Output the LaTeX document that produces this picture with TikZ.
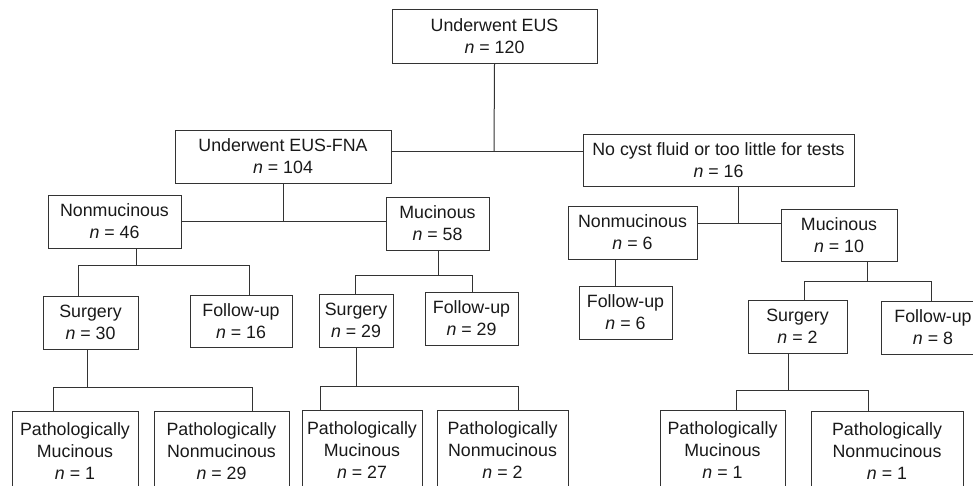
\documentclass[tikz,border=0pt]{standalone}
\usepackage{fontspec}
\setmainfont{Liberation Sans}
\begin{document}
\begin{tikzpicture}[x=1pt,y=-1pt,
  box/.style={draw=black!80, line width=1pt, align=center, inner sep=0pt,
    font=\fontsize{17.8}{22}\selectfont, text=black!90},
  ln/.style={draw=black!80, line width=1pt}]
\clip (0,0) rectangle (973,485);
% level 0
\node[box, minimum width=205pt, minimum height=54pt] (top) at (494.5,36) {Underwent EUS\\\textit{n} = 120};
% level 1
\node[box, minimum width=216pt, minimum height=53pt] (fna) at (283,156.5) {Underwent EUS-FNA\\\textit{n} = 104};
\node[box, minimum width=271pt, minimum height=52pt] (nc) at (718.5,160) {No cyst fluid or too little for tests\\\textit{n} = 16};
% level 2
\node[box, minimum width=133pt, minimum height=53pt] (nm1) at (114.5,221.5) {Nonmucinous\\\textit{n} = 46};
\node[box, minimum width=103pt, minimum height=53pt] (m1) at (437.5,223.5) {Mucinous\\\textit{n} = 58};
\node[box, minimum width=129pt, minimum height=53pt] (nm2) at (632.5,232.5) {Nonmucinous\\\textit{n} = 6};
\node[box, minimum width=116pt, minimum height=52pt] (m2) at (839,235) {Mucinous\\\textit{n} = 10};
% level 3
\node[box, minimum width=95pt, minimum height=53pt] (s1) at (90.5,322.5) {Surgery\\\textit{n} = 30};
\node[box, minimum width=102pt, minimum height=52pt] (f1) at (241,321) {Follow-up\\\textit{n} = 16};
\node[box, minimum width=74pt, minimum height=53pt] (s2) at (356,320.5) {Surgery\\\textit{n} = 29};
\node[box, minimum width=93pt, minimum height=53pt] (f2) at (471.5,318.5) {Follow-up\\\textit{n} = 29};
\node[box, minimum width=93pt, minimum height=53pt] (f3) at (625.5,312.5) {Follow-up\\\textit{n} = 6};
\node[box, minimum width=99pt, minimum height=53pt] (s3) at (797.5,326.5) {Surgery\\\textit{n} = 2};
\node[box, minimum width=104pt, minimum height=53pt] (f4) at (933,327.5) {Follow-up\\\textit{n} = 8};
% level 4
\node[box, minimum width=126pt, minimum height=80pt] (pm1) at (75,451) {Pathologically\\Mucinous\\\textit{n} = 1};
\node[box, minimum width=135pt, minimum height=80pt] (pn1) at (221.5,451) {Pathologically\\Nonmucinous\\\textit{n} = 29};
\node[box, minimum width=120pt, minimum height=80pt] (pm2) at (362,450.5) {Pathologically\\Mucinous\\\textit{n} = 27};
\node[box, minimum width=131pt, minimum height=80pt] (pn2) at (502.5,450.5) {Pathologically\\Nonmucinous\\\textit{n} = 2};
\node[box, minimum width=125pt, minimum height=80pt] (pm3) at (722.5,450) {Pathologically\\Mucinous\\\textit{n} = 1};
\node[box, minimum width=152pt, minimum height=80pt] (pn3) at (887,451) {Pathologically\\Nonmucinous\\\textit{n} = 1};
% junction points
\coordinate (j1) at (494,151);
\coordinate (j2) at (283,221);
\coordinate (j3) at (738,223);
\coordinate (a1) at (136,265);
\coordinate (a1l) at (78,265);
\coordinate (a1r) at (249,265);
\coordinate (b1) at (87,387);
\coordinate (b1l) at (53,387);
\coordinate (b1r) at (252,387);
\coordinate (a2) at (438,275);
\coordinate (a2l) at (355,275);
\coordinate (a2r) at (472,275);
\coordinate (b2) at (356,386);
\coordinate (b2l) at (320,386);
\coordinate (b2r) at (518,386);
\coordinate (c1) at (615,272);
\coordinate (a3) at (867,281);
\coordinate (a3l) at (804,281);
\coordinate (a3r) at (931,281);
\coordinate (b3) at (788,390);
\coordinate (b3l) at (736,390);
\coordinate (b3r) at (868,390);
% connectors
\draw[ln] (top.south) -- (j1);
\draw[ln] (fna.east |- j1) -- (nc.west |- j1);
\draw[ln] (fna.south) -- (j2);
\draw[ln] (nm1.east |- j2) -- (m1.west |- j2);
\draw[ln] (nc.south -| j3) -- (j3);
\draw[ln] (nm2.east |- j3) -- (m2.west |- j3);
\draw[ln] (nm1.south -| a1) -- (a1);
\draw[ln] (s1.north -| a1l) -- (a1l) -- (a1r) -- (f1.north -| a1r);
\draw[ln] (s1.south -| b1) -- (b1);
\draw[ln] (pm1.north -| b1l) -- (b1l) -- (b1r) -- (pn1.north -| b1r);
\draw[ln] (m1.south -| a2) -- (a2);
\draw[ln] (s2.north -| a2l) -- (a2l) -- (a2r) -- (f2.north -| a2r);
\draw[ln] (s2.south -| b2) -- (b2);
\draw[ln] (pm2.north -| b2l) -- (b2l) -- (b2r) -- (pn2.north -| b2r);
\draw[ln] (nm2.south -| c1) -- (f3.north -| c1);
\draw[ln] (m2.south -| a3) -- (a3);
\draw[ln] (s3.north -| a3l) -- (a3l) -- (a3r) -- (f4.north -| a3r);
\draw[ln] (s3.south -| b3) -- (b3);
\draw[ln] (pm3.north -| b3l) -- (b3l) -- (b3r) -- (pn3.north -| b3r);
\end{tikzpicture}
\end{document}
